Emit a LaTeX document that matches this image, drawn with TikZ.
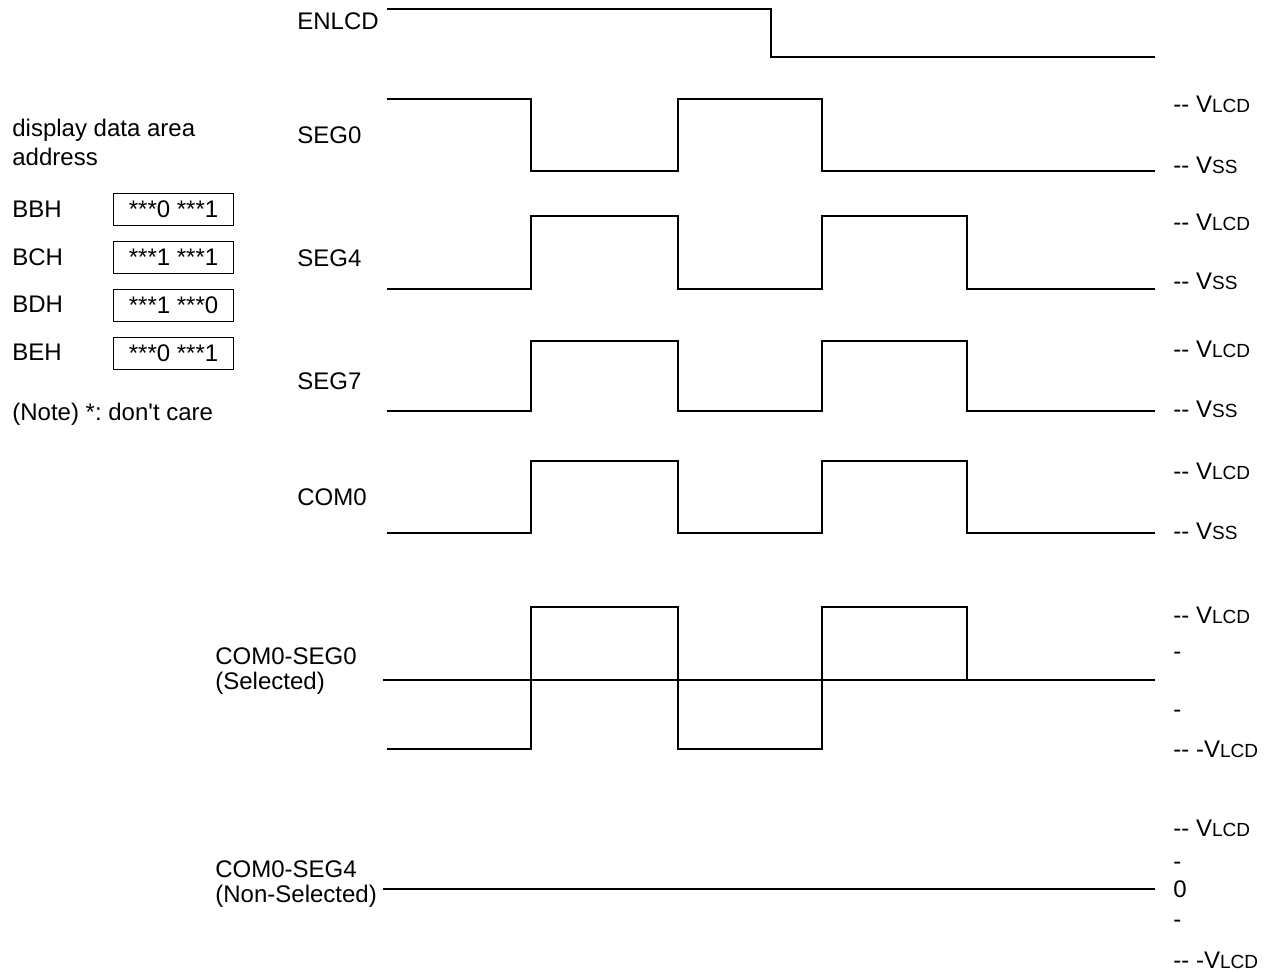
\documentclass[tikz,border=0pt]{standalone}
\usepackage{fontspec}
\setmainfont{Liberation Sans}
\usetikzlibrary{positioning}
\newcommand{\lv}[1]{V{\fontsize{9.5}{11}\selectfont #1}}
\frenchspacing

\begin{document}
\begin{tikzpicture}[x=0.5pt, y=-0.5pt, font=\fontsize{12}{14}\selectfont,
    wave/.style={line width=1.4pt},
    sig/.style={anchor=base west, inner sep=0pt},
    lvl/.style={anchor=base west, inner sep=0pt},
    databox/.style={draw, line width=0.6pt, minimum width=60pt, minimum height=16pt, inner sep=0pt, anchor=north west}]
    \useasboundingbox (0,0) rectangle (1268,972);

    %% Address table
    \node[sig] (area) at (12,137) {display data area};
    \node[sig] (addr) at (12,166) {address};
    \node[sig] (bbh) at (12,218) {BBH};
    \node[sig] (bch) at (12,266) {BCH};
    \node[sig] (bdh) at (12,313) {BDH};
    \node[sig] (beh) at (12,361) {BEH};
    \node[databox] (dbb) at (113,193) {***0 ***1};
    \node[databox] (dbc) at (113,241) {***1 ***1};
    \node[databox] (dbd) at (113,289) {***1 ***0};
    \node[databox] (dbe) at (113,337) {***0 ***1};
    \node[sig] (note) at (12,421) {(Note) *: don\textquotesingle t care};

    %% Signal names
    \node[sig] (enlcd) at (297,30) {ENLCD};
    \node[sig] (seg0) at (297,144) {SEG0};
    \node[sig] (seg4) at (297,267) {SEG4};
    \node[sig] (seg7) at (297,390) {SEG7};
    \node[sig] (com0) at (297,506) {COM0};
    \node[sig] (sel) at (215,664) {COM0-SEG0};
    \node[sig] (selb) at (215,689) {(Selected)};
    \node[sig] (nsel) at (215,877) {COM0-SEG4};
    \node[sig] (nselb) at (215,902) {(Non-Selected)};

    %% Waveforms
    \draw[wave] (387,9) -| (771,57) -- (1155,57);
    \draw[wave] (387,99) -| (531,171) -| (678,99) -| (822,171) -- (1155,171);
    \draw[wave] (387,289) -| (531,216) -| (678,289) -| (822,216) -| (967,289) -- (1155,289);
    \draw[wave] (387,411) -| (531,341) -| (678,411) -| (822,341) -| (967,411) -- (1155,411);
    \draw[wave] (387,533) -| (531,461) -| (678,533) -| (822,461) -| (967,533) -- (1155,533);
    \draw[wave] (383,680) -- (1155,680);
    \draw[wave] (387,749) -| (531,607) -| (678,749) -| (822,607) -| (967,680);
    \draw[wave] (383,889) -- (1155,889);

    %% Levels
    \node[lvl] (v1) at (1173,113) {-{}- \lv{LCD}};
    \node[lvl] (s1) at (1173,174) {-{}- \lv{SS}};
    \node[lvl] (v2) at (1173,231) {-{}- \lv{LCD}};
    \node[lvl] (s2) at (1173,290) {-{}- \lv{SS}};
    \node[lvl] (v3) at (1173,358) {-{}- \lv{LCD}};
    \node[lvl] (s3) at (1173,418) {-{}- \lv{SS}};
    \node[lvl] (v4) at (1173,480) {-{}- \lv{LCD}};
    \node[lvl] (s4) at (1173,539) {-{}- \lv{SS}};
    \node[lvl] (v5) at (1173,623) {-{}- \lv{LCD}};
    \node[lvl] (d5a) at (1173,659) {-};
    \node[lvl] (d5b) at (1173,717) {-};
    \node[lvl] (n5) at (1173,757) {-{}- -\lv{LCD}};
    \node[lvl] (v6) at (1173,836) {-{}- \lv{LCD}};
    \node[lvl] (d6a) at (1173,869) {-};
    \node[lvl] (z6) at (1173,897) {0};
    \node[lvl] (d6b) at (1173,927) {-};
    \node[lvl] (n6) at (1173,968) {-{}- -\lv{LCD}};
\end{tikzpicture}
\end{document}
